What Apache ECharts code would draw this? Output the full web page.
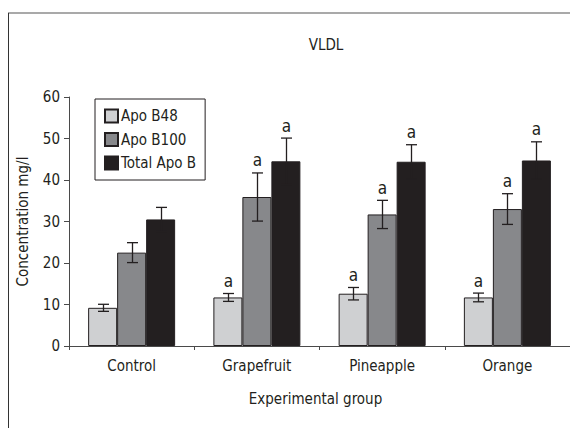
<!DOCTYPE html>
<html>
<head>
<meta charset="utf-8">
<script src="https://cdn.jsdelivr.net/npm/echarts@6/dist/echarts.min.js"></script>
<style>
html,body{margin:0;padding:0;background:#fff;}
#chart{width:570px;height:428px;}
</style>
</head>
<body>
<div id="chart"></div>
<script>
// ---- data ----
const categories = ['Control', 'Grapefruit', 'Pineapple', 'Orange'];
const seriesNames = ['Apo B48', 'Apo B100', 'Total Apo B'];
const apoB48 = [9.2, 11.7, 12.6, 11.7];
const apoB48Err = [0.85, 0.95, 1.5, 1.05];
const apoB100 = [22.5, 35.9, 31.7, 33.0];
const apoB100Err = [2.4, 5.8, 3.4, 3.7];
const totalApoB = [30.5, 44.5, 44.4, 44.7];
const totalApoBErr = [2.9, 5.6, 4.1, 4.5];
const sigApoB48 = ['', 'a', 'a', 'a'];
const sigApoB100 = ['', 'a', 'a', 'a'];
const sigTotalApoB = ['', 'a', 'a', 'a'];
const yTicks = [0, 10, 20, 30, 40, 50, 60];

// ---- styling ----
const FONT = "'Liberation Sans Narrow', 'DejaVu Sans Condensed', sans-serif";
const FS = 15;
const TXT = '#231f20';
const colors = ['#cfd0d2', '#87888b', '#231f20'];
const BAR_W = 29;
const CAP = 11;

const values = [apoB48, apoB100, totalApoB];
const errs = [apoB48Err, apoB100Err, totalApoBErr];
const sigs = [sigApoB48, sigApoB100, sigTotalApoB];

const errData = [];
values.forEach((arr, s) => {
  arr.forEach((v, i) => {
    errData.push({ value: [i, s, v, errs[s][i]], sig: sigs[s][i] });
  });
});

const chart = echarts.init(document.getElementById('chart'), null, { renderer: 'svg' });

const barSeries = seriesNames.map((name, s) => ({
  name: name,
  type: 'bar',
  data: values[s],
  barWidth: BAR_W,
  barGap: '0%',
  itemStyle: { color: colors[s], borderColor: TXT, borderWidth: 1 },
  emphasis: { disabled: true },
  animation: false
}));

const option = {
  animation: false,
  textStyle: { fontFamily: FONT, color: TXT },
  grid: { left: 69, right: -7, top: 97, bottom: 82, containLabel: false },
  graphic: [
    { type: 'line', shape: { x1: 8, y1: 13, x2: 572, y2: 13 }, style: { stroke: '#8c8c8c', lineWidth: 1.5 }, silent: true },
    { type: 'line', shape: { x1: 8.5, y1: 13, x2: 8.5, y2: 430 }, style: { stroke: '#333', lineWidth: 1 }, silent: true },
    { type: 'text', x: 326, y: 45, style: { text: 'VLDL', font: FS + 'px ' + FONT, fill: TXT, align: 'center', verticalAlign: 'middle' }, silent: true }
  ],
  legend: {
    data: seriesNames,
    orient: 'vertical',
    left: 95,
    top: 99,
    padding: [8, 9, 8, 9],
    itemGap: 5.5,
    itemWidth: 13,
    itemHeight: 13,
    icon: 'rect',
    borderColor: TXT,
    borderWidth: 1,
    textStyle: { fontFamily: FONT, fontSize: FS, color: TXT, lineHeight: 18, padding: [0, 0, 0, -2] },
    selectedMode: false
  },
  xAxis: {
    type: 'category',
    data: categories,
    axisLine: { lineStyle: { color: '#4a4a4a', width: 1 } },
    axisTick: { show: true, length: 4, lineStyle: { color: '#4a4a4a' } },
    axisLabel: { fontFamily: FONT, fontSize: FS, color: TXT, margin: 12.5 },
    name: 'Experimental group',
    nameLocation: 'middle',
    nameGap: 45.5,
    nameTextStyle: { fontFamily: FONT, fontSize: FS, color: TXT, padding: [0, 8, 0, 0] }
  },
  yAxis: {
    type: 'value',
    min: yTicks[0],
    max: yTicks[yTicks.length - 1],
    interval: yTicks[1] - yTicks[0],
    axisLine: { show: true, lineStyle: { color: '#4a4a4a', width: 1 } },
    axisTick: { show: true, length: 5, lineStyle: { color: '#4a4a4a' } },
    splitLine: { show: false },
    axisLabel: { fontFamily: FONT, fontSize: FS, color: TXT, margin: 9 },
    name: 'Concentration mg/l',
    nameLocation: 'middle',
    nameGap: 38.5,
    nameTextStyle: { fontFamily: FONT, fontSize: FS, color: TXT }
  },
  series: barSeries.concat([{
    type: 'custom',
    name: 'errors',
    data: errData,
    encode: { x: 0, y: 2 },
    z: 10,
    silent: true,
    renderItem: function (params, api) {
      const cat = api.value(0);
      const s = api.value(1);
      const v = api.value(2);
      const e = api.value(3);
      const off = (s - 1) * BAR_W;
      const top = api.coord([cat, v + e]);
      const bot = api.coord([cat, v - e]);
      const x = Math.round(top[0] + off) + 0.5;
      const style = { stroke: TXT, lineWidth: 1.3 };
      const children = [
        { type: 'line', shape: { x1: x, y1: top[1], x2: x, y2: bot[1] }, style: style },
        { type: 'line', shape: { x1: x - CAP / 2, y1: top[1], x2: x + CAP / 2, y2: top[1] }, style: style },
        { type: 'line', shape: { x1: x - CAP / 2, y1: bot[1], x2: x + CAP / 2, y2: bot[1] }, style: style }
      ];
      const sig = errData[params.dataIndex].sig;
      if (sig) {
        children.push({
          type: 'text',
          x: x,
          y: top[1] - 4,
          style: { text: sig, font: '17px ' + FONT, fill: TXT, align: 'center', verticalAlign: 'bottom' }
        });
      }
      return { type: 'group', children: children };
    }
  }])
};
chart.setOption(option);
</script>
</body>
</html>
